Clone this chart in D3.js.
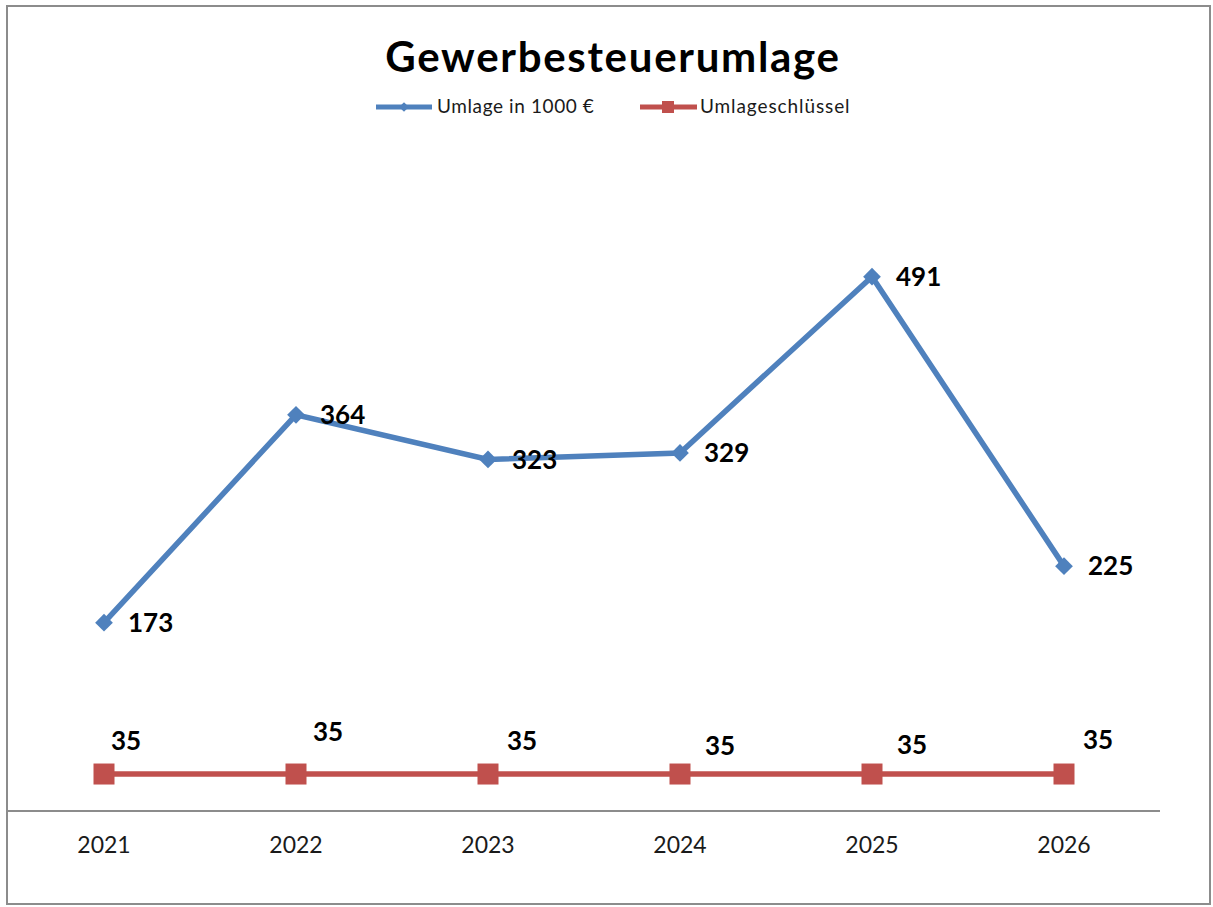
<!DOCTYPE html>
<html>
<head>
<meta charset="utf-8">
<script src="https://cdn.jsdelivr.net/npm/d3@7"></script>
<style>
  body { margin: 0; background: #fff; }
  text { font-family: Lato, "Open Sans", sans-serif; }
</style>
</head>
<body>
<div id="chart"></div>
<script>
var years = ["2021", "2022", "2023", "2024", "2025", "2026"];
var umlage = [173, 364, 323, 329, 491, 225];
var schluessel = [35, 35, 35, 35, 35, 35];
var seriesNames = ["Umlage in 1000 €", "Umlageschlüssel"];

// label nudges for the red series, as excel placed them
var redLabelDx = [7, 17, 19, 25, 25, 19];
var redLabelDy = [-33, -42, -33, -28, -29, -34];

var width = 1213;
var height = 907;
var blue = "#4f81bd";
var red = "#c0504d";

var svg = d3.select("#chart")
  .append("svg")
  .attr("width", width)
  .attr("height", height);

// outer frame
svg.append("rect")
  .attr("x", 7)
  .attr("y", 6)
  .attr("width", 1203)
  .attr("height", 898)
  .style("fill", "#fff")
  .style("stroke", "#8c8c8c")
  .style("stroke-width", 2);

var x = d3.scaleBand()
  .domain(years)
  .range([8, 1160]);

var y = d3.scaleLinear()
  .domain([0, 600])
  .range([811, 158]);

// secondary axis for the key
var y2 = d3.scaleLinear()
  .domain([0, 618])
  .range([811, 158]);

var cx = function (d, i) { return x(years[i]) + x.bandwidth() / 2; };

// x axis
var xAxis = svg.append("g")
  .attr("transform", "translate(0,811)")
  .call(d3.axisBottom(x).tickSize(0).tickPadding(26));
xAxis.select(".domain")
  .attr("d", "M8,0H1160")
  .style("stroke", "#8c8c8c")
  .style("stroke-width", 2);
xAxis.selectAll("text")
  .style("font-family", "Lato, sans-serif")
  .style("font-size", "23px")
  .style("fill", "#1a1a1a");

// title
svg.append("text")
  .attr("x", 613)
  .attr("y", 72)
  .attr("text-anchor", "middle")
  .style("font-size", "42px")
  .style("font-weight", "bold")
  .style("letter-spacing", "1.7px")
  .text("Gewerbesteuerumlage");

// legend
var legend = svg.append("g");
legend.append("line")
  .attr("x1", 376).attr("x2", 432).attr("y1", 107).attr("y2", 107)
  .style("stroke", blue).style("stroke-width", 5);
legend.append("path")
  .attr("d", d3.symbol().type(d3.symbolDiamond2).size(60)())
  .attr("transform", "translate(404,107)")
  .style("fill", blue);
legend.append("text")
  .attr("x", 437).attr("y", 113)
  .style("font-size", "19px")
  .style("letter-spacing", "0.6px")
  .style("fill", "#1a1a1a")
  .text(seriesNames[0]);
legend.append("line")
  .attr("x1", 640).attr("x2", 697).attr("y1", 107).attr("y2", 107)
  .style("stroke", red).style("stroke-width", 5);
legend.append("rect")
  .attr("x", 662).attr("y", 101).attr("width", 12).attr("height", 12)
  .style("fill", red);
legend.append("text")
  .attr("x", 700).attr("y", 113)
  .style("font-size", "19px")
  .style("letter-spacing", "0.9px")
  .style("fill", "#1a1a1a")
  .text(seriesNames[1]);

// red series
svg.append("path")
  .datum(schluessel)
  .attr("d", d3.line().x(cx).y(function (d) { return y2(d); }))
  .style("fill", "none")
  .style("stroke", red)
  .style("stroke-width", 5.5);

svg.append("g")
  .selectAll("rect")
  .data(schluessel)
  .enter()
  .append("rect")
  .attr("x", function (d, i) { return cx(d, i) - 10.5; })
  .attr("y", function (d) { return y2(d) - 10.5; })
  .attr("width", 21)
  .attr("height", 21)
  .style("fill", red);

svg.append("g")
  .selectAll("text")
  .data(schluessel)
  .enter()
  .append("text")
  .attr("x", function (d, i) { return cx(d, i) + redLabelDx[i]; })
  .attr("y", function (d, i) { return y2(d) + redLabelDy[i]; })
  .attr("dy", "0.36em")
  .style("font-size", "26px")
  .style("font-weight", "bold")
  .text(function (d) { return d; });

// blue series
svg.append("path")
  .datum(umlage)
  .attr("d", d3.line().x(cx).y(function (d) { return y(d); }))
  .style("fill", "none")
  .style("stroke", blue)
  .style("stroke-width", 5.5);

svg.append("g")
  .selectAll("path")
  .data(umlage)
  .enter()
  .append("path")
  .attr("d", d3.symbol().type(d3.symbolDiamond2).size(200)())
  .attr("transform", function (d, i) { return "translate(" + cx(d, i) + "," + y(d) + ")"; })
  .style("fill", blue);

svg.append("g")
  .selectAll("text")
  .data(umlage)
  .enter()
  .append("text")
  .attr("x", function (d, i) { return cx(d, i) + 24; })
  .attr("y", function (d) { return y(d); })
  .attr("dy", "0.36em")
  .style("font-size", "26px")
  .style("font-weight", "bold")
  .text(function (d) { return d; });
</script>
</body>
</html>
